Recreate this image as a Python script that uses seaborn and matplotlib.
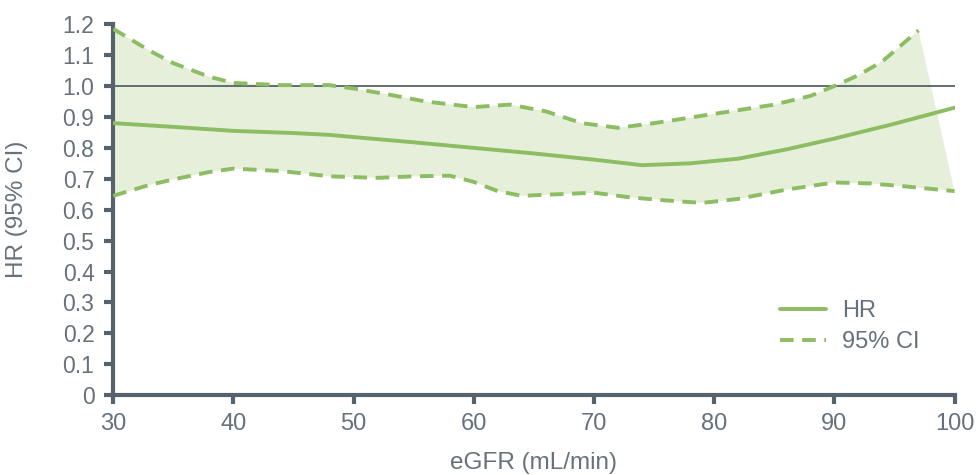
import numpy as np
import pandas as pd
import seaborn as sns
import matplotlib.pyplot as plt

# hazard ratio curve vs eGFR
hr_x = [30, 35, 40, 45, 48, 50, 55, 60, 65, 70, 74, 78, 82, 86, 90, 95, 100]
hr_y = [0.880, 0.868, 0.855, 0.848, 0.842, 0.835, 0.818, 0.800, 0.782, 0.762, 0.744, 0.750, 0.765, 0.795, 0.830, 0.878, 0.930]

# upper 95% CI (stops before 100)
up_x = [30, 33, 35, 38, 40, 44, 48, 50, 53, 56, 60, 63, 66, 69, 72, 75, 80, 85, 88, 90, 92, 94, 97]
up_y = [1.185, 1.115, 1.074, 1.030, 1.010, 1.003, 1.003, 0.992, 0.972, 0.950, 0.932, 0.940, 0.918, 0.880, 0.865, 0.880, 0.910, 0.940, 0.968, 1.000, 1.035, 1.080, 1.180]

# lower 95% CI
lo_x = [30, 33, 35, 38, 40, 44, 48, 52, 55, 58, 60, 62, 64, 67, 70, 73, 76, 79, 82, 86, 90, 93, 96, 100]
lo_y = [0.645, 0.680, 0.698, 0.722, 0.733, 0.725, 0.708, 0.703, 0.708, 0.710, 0.690, 0.660, 0.645, 0.650, 0.655, 0.640, 0.630, 0.622, 0.635, 0.665, 0.688, 0.685, 0.675, 0.660]

x_ticks = [30, 40, 50, 60, 70, 80, 90, 100]
y_ticks = [0, 0.1, 0.2, 0.3, 0.4, 0.5, 0.6, 0.7, 0.8, 0.9, 1.0, 1.1, 1.2]
y_labels = ["0", "0.1", "0.2", "0.3", "0.4", "0.5", "0.6", "0.7", "0.8", "0.9", "1.0", "1.1", "1.2"]

green = "#8cbd62"
fill_green = "#e5efda"
axis_col = "#56626c"
text_col = "#66717b"

sns.set_style("white")
plt.rcParams['font.family'] = ['Liberation Sans', 'DejaVu Sans']

fig = plt.figure(figsize=(9.76, 4.75), dpi=100)
ax = fig.add_axes([0.116, 0.168, 0.862, 0.781])

# shaded CI band
poly_x = np.concatenate([up_x, lo_x[::-1]])
poly_y = np.concatenate([up_y, lo_y[::-1]])
ax.fill(poly_x, poly_y, color=fill_green, lw=0, zorder=1)

ax.axhline(1.0, color=axis_col, lw=1.3, zorder=2)

hr_df = pd.DataFrame({'egfr': hr_x, 'hr': hr_y})
up_df = pd.DataFrame({'egfr': up_x, 'hr': up_y})
lo_df = pd.DataFrame({'egfr': lo_x, 'hr': lo_y})

sns.lineplot(x='egfr', y='hr', data=hr_df, color=green, lw=2.8, ax=ax, label='HR', zorder=3)
sns.lineplot(x='egfr', y='hr', data=up_df, color=green, lw=2.8, ax=ax, label='95% CI', zorder=3)
sns.lineplot(x='egfr', y='hr', data=lo_df, color=green, lw=2.8, ax=ax, zorder=3)
ax.lines[-2].set_dashes([3.5, 2.2])
ax.lines[-1].set_dashes([3.5, 2.2])

ax.set_xlim(30, 100)
ax.set_ylim(0, 1.2)
ax.set_xticks(x_ticks)
ax.set_yticks(y_ticks)
ax.set_yticklabels(y_labels)

for side in ['top', 'right']:
    ax.spines[side].set_visible(False)
for side in ['left', 'bottom']:
    ax.spines[side].set_color(axis_col)
    ax.spines[side].set_linewidth(3)

ax.tick_params(axis='both', direction='out', length=6.5, width=3, color=axis_col,
               labelcolor=text_col, labelsize=16.5, left=True, bottom=True)
ax.tick_params(axis='y', pad=7)
ax.tick_params(axis='x', pad=6, labelsize=17)

ax.set_xlabel('eGFR (mL/min)', fontsize=17.5, color=text_col)
ax.set_ylabel('HR (95% CI)', fontsize=17.5, color=text_col)
ax.xaxis.set_label_coords(0.5, -0.154)
ax.yaxis.set_label_coords(-0.101, 0.5)

leg = ax.legend(loc='center left', bbox_to_anchor=(0.792, 0.185), frameon=False,
                fontsize=17, labelcolor=text_col, handlelength=1.95,
                handletextpad=0.68, labelspacing=0.38, borderpad=0, borderaxespad=0)

plt.savefig('out.png', dpi=100)
